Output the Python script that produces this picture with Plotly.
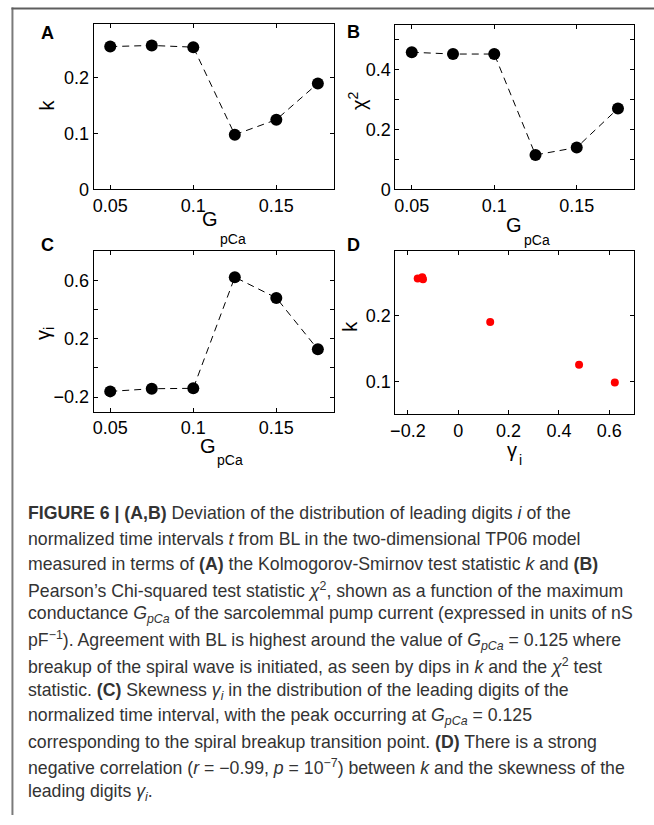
import plotly.graph_objects as go

# ---- data ----
g_pca = [0.05, 0.075, 0.1, 0.125, 0.15, 0.175]
k_vals = [0.256, 0.258, 0.255, 0.098, 0.125, 0.190]
chi2_vals = [0.458, 0.452, 0.452, 0.115, 0.140, 0.270]
gamma_vals = [-0.161, -0.143, -0.140, 0.622, 0.480, 0.127]

panel_labels = ["A", "B", "C", "D"]

caption_lines = [
    "<b>FIGURE 6 | (A,B)</b> Deviation of the distribution of leading digits <i>i</i> of the",
    "normalized time intervals <i>t</i> from BL in the two-dimensional TP06 model",
    "measured in terms of <b>(A)</b> the Kolmogorov-Smirnov test statistic <i>k</i> and <b>(B)</b>",
    "Pearson’s Chi-squared test statistic <i>χ</i><sup>2</sup>, shown as a function of the maximum",
    "conductance <i>G<sub>pCa</sub></i> of the sarcolemmal pump current (expressed in units of nS",
    "pF<sup>−1</sup>). Agreement with BL is highest around the value of <i>G<sub>pCa</sub></i> = 0.125 where",
    "breakup of the spiral wave is initiated, as seen by dips in <i>k</i> and the <i>χ</i><sup>2</sup> test",
    "statistic. <b>(C)</b> Skewness <i>γ<sub>i</sub></i> in the distribution of the leading digits of the",
    "normalized time interval, with the peak occurring at <i>G<sub>pCa</sub></i> = 0.125",
    "corresponding to the spiral breakup transition point. <b>(D)</b> There is a strong",
    "negative correlation (<i>r</i> = −0.99, <i>p</i> = 10<sup>−7</sup>) between <i>k</i> and the skewness of the",
    "leading digits <i>γ<sub>i</sub></i>.",
]

W, H = 654, 825
FONT = "Liberation Sans"


def px(x):
    return x / W


def py(y):
    return 1 - y / H


fig = go.Figure()

line_style = dict(color="black", width=1, dash="7px,5px")
mk = dict(color="black", size=12)

fig.add_trace(go.Scatter(x=g_pca, y=k_vals, mode="lines+markers", line=line_style,
                         marker=mk, xaxis="x", yaxis="y"))
fig.add_trace(go.Scatter(x=g_pca, y=chi2_vals, mode="lines+markers", line=line_style,
                         marker=mk, xaxis="x2", yaxis="y2"))
fig.add_trace(go.Scatter(x=g_pca, y=gamma_vals, mode="lines+markers", line=line_style,
                         marker=mk, xaxis="x3", yaxis="y3"))
fig.add_trace(go.Scatter(x=gamma_vals, y=k_vals, mode="markers",
                         marker=dict(color="#ff0000", size=8), xaxis="x4", yaxis="y4"))

base_ax = dict(showline=True, linecolor="black", linewidth=1, mirror="ticks",
               ticks="inside", ticklen=4, tickcolor="black", tickwidth=1,
               showgrid=False, zeroline=False,
               tickfont=dict(family=FONT, size=18, color="black"))

# panel boxes (pixel coordinates)
boxA = (89.3, 332.0, 24.0, 191.7)
boxB = (393.3, 634.3, 25.0, 191.7)
boxC = (89.3, 332.0, 254.3, 416.7)
boxD = (393.3, 634.3, 254.0, 419.3)


def dom(box):
    x0, x1, y0, y1 = box
    return [px(x0), px(x1)], [py(y1), py(y0)]


dxA, dyA = dom(boxA)
dxB, dyB = dom(boxB)
dxC, dyC = dom(boxC)
dxD, dyD = dom(boxD)

gx = dict(range=[0.04, 0.185], tickmode="linear", tick0=0.05, dtick=0.05)

fig.update_layout(
    xaxis=dict(base_ax, domain=dxA, anchor="y", **gx),
    yaxis=dict(base_ax, domain=dyA, anchor="x", range=[0, 0.297],
               tickmode="linear", tick0=0, dtick=0.1),
    xaxis2=dict(base_ax, domain=dxB, anchor="y2", **gx),
    yaxis2=dict(base_ax, domain=dyB, anchor="x2", range=[0, 0.55],
                tickmode="linear", tick0=0, dtick=0.2,
                minor=dict(tickmode="linear", tick0=0, dtick=0.1, ticks="inside",
                           ticklen=4, tickcolor="black", showgrid=False)),
    xaxis3=dict(base_ax, domain=dxC, anchor="y3", **gx),
    yaxis3=dict(base_ax, domain=dyC, anchor="x3", range=[-0.3, 0.8],
                tickmode="linear", tick0=-0.2, dtick=0.4,
                minor=dict(tickmode="linear", tick0=-0.2, dtick=0.2, ticks="inside",
                           ticklen=4, tickcolor="black", showgrid=False)),
    xaxis4=dict(base_ax, domain=dxD, anchor="y4", range=[-0.25, 0.7],
                tickmode="linear", tick0=0, dtick=0.2),
    yaxis4=dict(base_ax, domain=dyD, anchor="x4", range=[0.05, 0.298],
                tickmode="linear", tick0=0, dtick=0.1),
    width=W, height=H,
    margin=dict(l=0, r=0, t=0, b=0),
    paper_bgcolor="white", plot_bgcolor="white",
    showlegend=False,
    font=dict(family=FONT, color="black", size=17),
)

ann = []


def add_text(text, x, y, size, angle=0, xanchor="center", color="black"):
    ann.append(dict(text=text, x=px(x), y=py(y), xref="paper", yref="paper",
                    xanchor=xanchor, yanchor="middle", showarrow=False,
                    textangle=angle, borderpad=0,
                    font=dict(family=FONT, size=size, color=color)))


# panel letters
for lab, (x, y) in zip(panel_labels, [(42.5, 33), (350.8, 32.5), (42.5, 247.5), (350.8, 247.5)]):
    add_text("<b>" + lab + "</b>", x, y, 18)

# x-axis titles (MATLAB-style low subscript)
for gx_, gy_, sx_, sy_ in [(207, 222, 230, 242), (513, 228, 536, 243), (205, 451, 227, 466)]:
    add_text("G", gx_, gy_, 20)
    add_text("pCa", sx_, sy_, 14)
add_text("γ", 511, 456, 20)
add_text("i", 519.5, 466, 14)

# y-axis titles
add_text("k", 42.5, 106.7, 20, angle=-90)
add_text("χ<sup>2</sup>", 355, 102, 20, angle=-90)
add_text("γ<sub>i</sub>", 40, 337.5, 20, angle=-90)
add_text("k", 347.5, 330, 20, angle=-90)

# caption
for i, line in enumerate(caption_lines):
    baseline = 525.5 + i * 25.7
    add_text(line, 22, baseline - 5.8, 17.7, xanchor="left", color="#333333")

fig.update_layout(annotations=ann)

# frame lines
fig.add_shape(type="line", xref="paper", yref="paper", x0=px(7.5), x1=px(7.5),
              y0=py(7.5), y1=0, line=dict(color="#7a7a7a", width=2))
fig.add_shape(type="line", xref="paper", yref="paper", x0=px(6.5), x1=1,
              y0=py(8.5), y1=py(8.5), line=dict(color="#5e5e5e", width=2))

fig.write_html(
    "out.html",
    config={"displayModeBar": False},
    post_script="document.body.style.margin='0';document.body.style.overflow='hidden';",
)
